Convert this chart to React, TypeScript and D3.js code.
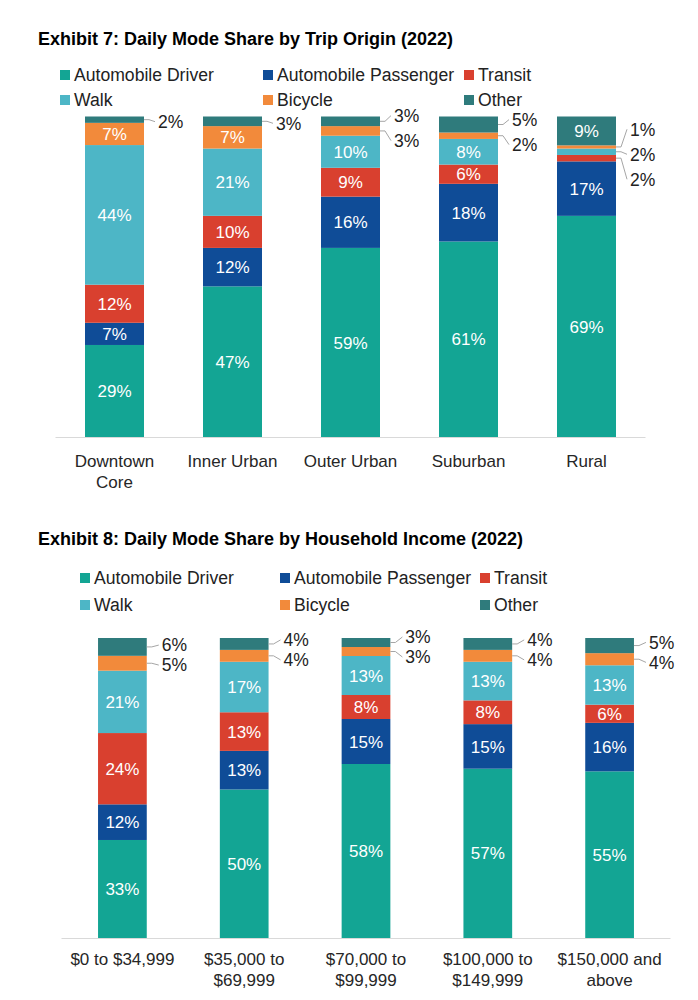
import React from "react";
import * as d3 from "d3";

// ---- shared series definitions ----
const modeNames = ["Automobile Driver", "Automobile Passenger", "Transit", "Walk", "Bicycle", "Other"];
const modeKeys = ["driver", "passenger", "transit", "walk", "bicycle", "other"];
const modeColors = ["#13A594", "#0F4C97", "#D9402F", "#4DB6C6", "#F28A3B", "#2F7B7C"];

// ---- Exhibit 7: Trip origin ----
const originCategories = ["Downtown\nCore", "Inner Urban", "Outer Urban", "Suburban", "Rural"];
const originDriver = [29, 47, 59, 61, 69];
const originPassenger = [7, 12, 16, 18, 17];
const originTransit = [12, 10, 9, 6, 2];
const originWalk = [44, 21, 10, 8, 2];
const originBicycle = [7, 7, 3, 2, 1];
const originOther = [2, 3, 3, 5, 9];

// ---- Exhibit 8: Household income ----
const incomeCategories = ["$0 to $34,999", "$35,000 to\n$69,999", "$70,000 to\n$99,999", "$100,000 to\n$149,999", "$150,000 and\nabove"];
const incomeDriver = [33, 50, 58, 57, 55];
const incomePassenger = [12, 13, 15, 15, 16];
const incomeTransit = [24, 13, 8, 8, 6];
const incomeWalk = [21, 17, 13, 13, 13];
const incomeBicycle = [5, 4, 3, 4, 4];
const incomeOther = [6, 4, 3, 4, 5];

const FONT = "'Liberation Sans', Arial, Helvetica, sans-serif";

type ChartProps = {
  title: string;
  titleY: number;
  categories: string[];
  series: number[][];
  xRange: [number, number];
  yRange: [number, number];
  padInner: number;
  padOuter: number;
  legendRows: number[];
  legendCols: number[];
  isOutside: (key: string, value: number) => boolean;
  labelSpacing: number;
  labelOffset: number;
  labelGap: number;
  catY: number;
};

function StackedChart(p: ChartProps) {
  const rows = p.categories.map((c, i) => {
    const r: any = { cat: c };
    modeKeys.forEach((k, j) => (r[k] = p.series[j][i]));
    return r;
  });
  const stack = d3.stack<any>().keys(modeKeys).offset(d3.stackOffsetExpand).order(d3.stackOrderNone);
  const layers = stack(rows);
  const x = d3
    .scaleBand<string>()
    .domain(p.categories)
    .range(p.xRange)
    .paddingInner(p.padInner)
    .paddingOuter(p.padOuter);
  const y = d3.scaleLinear().domain([0, 1]).range(p.yRange);
  const bw = x.bandwidth();

  // outside labels per category
  const outside: any[] = [];
  p.categories.forEach((c, ci) => {
    const items: any[] = [];
    for (let li = layers.length - 1; li >= 0; li--) {
      const key = modeKeys[li];
      const v = p.series[li][ci];
      if (p.isOutside(key, v)) {
        const seg = layers[li][ci];
        items.push({ key, v, mid: (y(seg[0]) + y(seg[1])) / 2 });
      }
    }
    if (!items.length) return;
    const mean = d3.mean(items, (d) => d.mid)! + p.labelOffset;
    const n = items.length;
    items.forEach((it, i) => {
      it.ly = mean + (i - (n - 1) / 2) * p.labelSpacing;
      it.barRight = (x(c) as number) + bw;
      it.lx = it.barRight + p.labelGap;
      it.ci = ci;
      outside.push(it);
    });
  });

  return (
    <g>
      <text x={38} y={p.titleY} fontFamily={FONT} fontWeight="bold" fontSize={18} fill="#000">
        {p.title}
      </text>
      {modeNames.map((name, i) => {
        const row = Math.floor(i / 3);
        const col = i % 3;
        const mx = p.legendCols[col];
        const my = p.legendRows[row];
        return (
          <g key={name}>
            <rect x={mx} y={my - 5} width={10} height={10} fill={modeColors[i]} />
            <text x={mx + 14} y={my} dy="0.35em" fontFamily={FONT} fontSize={17.6} fill="#222">
              {name}
            </text>
          </g>
        );
      })}
      {layers.map((layer, li) => (
        <g key={modeKeys[li]} fill={modeColors[li]}>
          {layer.map((seg, ci) => (
            <rect
              key={ci}
              x={x(p.categories[ci])}
              y={y(seg[1])}
              width={bw}
              height={Math.max(0, y(seg[0]) - y(seg[1]))}
            />
          ))}
        </g>
      ))}
      {layers.map((layer, li) =>
        layer.map((seg, ci) => {
          const v = p.series[li][ci];
          if (p.isOutside(modeKeys[li], v)) return null;
          return (
            <text
              key={modeKeys[li] + ci}
              x={(x(p.categories[ci]) as number) + bw / 2}
              y={(y(seg[0]) + y(seg[1])) / 2}
              dy="0.36em"
              textAnchor="middle"
              fontFamily={FONT}
              fontSize={17}
              fill="#fff"
            >
              {v}%
            </text>
          );
        })
      )}
      {outside.map((it, i) => (
        <g key={"o" + i}>
          <polyline
            points={`${it.barRight},${it.mid} ${it.barRight + 5},${it.mid} ${it.lx - 3},${it.ly}`}
            fill="none"
            stroke="#A6A6A6"
            strokeWidth={1}
          />
          <text x={it.lx} y={it.ly} dy="0.36em" fontFamily={FONT} fontSize={17.5} fill="#222">
            {it.v}%
          </text>
        </g>
      ))}
      <line x1={p.xRange[0]} x2={p.xRange[1]} y1={p.yRange[0] + 0.5} y2={p.yRange[0] + 0.5} stroke="#D9D9D9" strokeWidth={1} />
      {p.categories.map((c) => (
        <text
          key={c}
          x={(x(c) as number) + bw / 2}
          y={p.catY}
          textAnchor="middle"
          fontFamily={FONT}
          fontSize={17}
          fill="#262626"
        >
          {c.split("\n").map((line, k) => (
            <tspan key={k} x={(x(c) as number) + bw / 2} dy={k === 0 ? "0.35em" : 21}>
              {line}
            </tspan>
          ))}
        </text>
      ))}
    </g>
  );
}

export default function App() {
  return (
    <svg
      width={698}
      height={1000}
      style={{ position: "absolute", left: 0, top: 0, background: "#fff" }}
    >
      <rect width={698} height={1000} fill="#fff" />
      <StackedChart
        title="Exhibit 7: Daily Mode Share by Trip Origin (2022)"
        titleY={45}
        categories={originCategories}
        series={[originDriver, originPassenger, originTransit, originWalk, originBicycle, originOther]}
        xRange={[55.5, 645.5]}
        yRange={[437, 116.5]}
        padInner={0.5}
        padOuter={0.25}
        legendRows={[75, 100]}
        legendCols={[60, 263, 464]}
        isOutside={(k, v) => v < 6}
        labelSpacing={25}
        labelOffset={2}
        labelGap={14}
        catY={461}
      />
      <StackedChart
        title="Exhibit 8: Daily Mode Share by Household Income (2022)"
        titleY={545}
        categories={incomeCategories}
        series={[incomeDriver, incomePassenger, incomeTransit, incomeWalk, incomeBicycle, incomeOther]}
        xRange={[61.5, 670.5]}
        yRange={[938, 638]}
        padInner={0.6}
        padOuter={0.3}
        legendRows={[578, 605]}
        legendCols={[80, 280, 480]}
        isOutside={(k, v) => k === "bicycle" || k === "other"}
        labelSpacing={20}
        labelOffset={0}
        labelGap={15}
        catY={959}
      />
    </svg>
  );
}
